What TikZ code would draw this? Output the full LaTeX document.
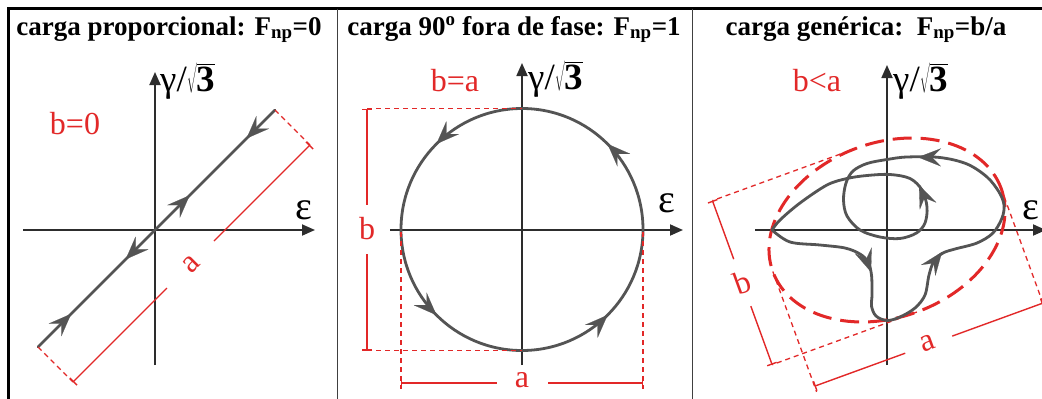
\documentclass[tikz,border=0pt]{standalone}
\usepackage{fontspec}
\setmainfont{Liberation Serif}
\usetikzlibrary{arrows.meta,decorations.markings,calc}
\definecolor{dimred}{RGB}{226,40,40}
\definecolor{pathgray}{RGB}{84,84,84}
\definecolor{axisgray}{RGB}{45,45,45}
\tikzset{
  axisline/.style={draw=axisgray,line width=1.8pt,-{Triangle[length=13pt,width=11pt]}},
  loadpath/.style={draw=pathgray,line width=2.8pt,line cap=round,line join=round},
  tipmark/.style={draw=pathgray,fill=pathgray,line width=0.1pt,-{Stealth[length=23pt,width=18pt,inset=9pt]}},
  dimline/.style={draw=dimred,line width=1.4pt},
  dimend/.style={draw=dimred,line width=1.4pt,{Bar[width=10pt,line width=1.4pt]}-},
  extline/.style={draw=dimred,line width=1.3pt,dash pattern=on 5pt off 4pt},
  ellline/.style={draw=dimred,line width=3pt,dash pattern=on 19pt off 9pt},
  titletext/.style={anchor=base,inner sep=0pt,font=\bfseries\fontsize{27}{27}\selectfont},
  redlabel/.style={inner sep=0pt,text=dimred,font=\fontsize{32}{32}\selectfont},
  axislabel/.style={inner sep=0pt,font=\fontsize{37}{37}\selectfont},
  epslabel/.style={inner sep=0pt,font=\fontsize{40}{40}\selectfont},
  framepart/.style={draw=black,line width=3pt},
  divider/.style={draw=black!75,line width=1.5pt}
}
\newcommand{\fwd}{\arrow[pathgray,line width=0.1pt]{Stealth[length=23pt,width=18pt,inset=9pt]}}
\newcommand{\bwd}{\arrowreversed[pathgray,line width=0.1pt]{Stealth[length=23pt,width=18pt,inset=9pt]}}
\begin{document}
\begin{tikzpicture}[x=1pt,y=-1pt]
\useasboundingbox (0,0) rectangle (1042,399);
\fill[white] (0,0) rectangle (1042,399);
% frame
\coordinate (fbl) at (8.5,399);
\coordinate (ftl) at (8.5,8.5);
\coordinate (ftr) at (1042,8.5);
\draw[framepart] (fbl) -- (ftl) -- (ftr);
\coordinate (d1t) at (337.5,8.5); \coordinate (d1b) at (337.5,399);
\coordinate (d2t) at (692.5,8.5); \coordinate (d2b) at (692.5,399);
\draw[divider] (d1t) -- (d1b);
\draw[divider] (d2t) -- (d2b);

% ================= panel 1
\node[titletext] (t1) at (169,35) {carga proporcional: F\textsubscript{np}=0};
\coordinate (h1a) at (23,230); \coordinate (h1b) at (315,230);
\coordinate (v1a) at (155,365); \coordinate (v1b) at (155,72);
\draw[axisline] (h1a) -- (h1b);
\draw[axisline] (v1a) -- (v1b);
\node[axislabel,anchor=west] (g1) at (160,81) {γ/$\sqrt{\textbf{3}}$};
\node[epslabel] (e1) at (304,210) {ε};
\node[redlabel] (r1) at (75,124) {b=0};
\coordinate (p1a) at (38,347); \coordinate (p1b) at (275,110);
\draw[loadpath,postaction={decorate},decoration={markings,
  mark=at position 0.14 with {\fwd},
  mark=at position 0.37 with {\bwd},
  mark=at position 0.64 with {\fwd},
  mark=at position 0.88 with {\bwd}}] (p1a) -- (p1b);
\coordinate (q1a) at (73,382); \coordinate (q1b) at (310,145);
\draw[extline] (p1a) -- (q1a);
\draw[extline] (p1b) -- (q1b);
\coordinate (q1c) at (214,241); \coordinate (q1d) at (167,288);
\draw[dimend] (q1b) -- (q1c);
\draw[dimend] (q1a) -- (q1d);
\node[redlabel,rotate=45] (a1) at (191,264) {a};

% ================= panel 2
\node[titletext] (t2) at (514,35) {carga 90\textsuperscript{o} fora de fase: F\textsubscript{np}=1};
\coordinate (h2a) at (390,230); \coordinate (h2b) at (683,230);
\coordinate (v2a) at (522,365); \coordinate (v2b) at (522,63);
\draw[axisline] (h2a) -- (h2b);
\draw[axisline] (v2a) -- (v2b);
\node[axislabel,anchor=west] (g2) at (528,79) {γ/$\sqrt{\textbf{3}}$};
\node[epslabel] (e2) at (667,203) {ε};
\node[redlabel] (r2) at (455,81) {b=a};
\coordinate (c2) at (522,229.5);
\draw[loadpath,postaction={decorate},decoration={markings,
  mark=at position 0.125 with {\fwd},
  mark=at position 0.375 with {\fwd},
  mark=at position 0.625 with {\fwd},
  mark=at position 0.875 with {\fwd}}]
  (643,229.5) arc[start angle=0,end angle=-360,radius=121];
% b dimension
\coordinate (b2t) at (367,108.5); \coordinate (b2b) at (367,350.5);
\coordinate (c2t) at (522,108.5); \coordinate (c2b) at (522,350.5);
\draw[extline] (b2t) -- (c2t);
\draw[extline] (b2b) -- (c2b);
\coordinate (b2g1) at (367,205); \coordinate (b2g2) at (367,254);
\draw[dimend] (b2t) -- (b2g1);
\draw[dimend] (b2b) -- (b2g2);
\node[redlabel] (lb2) at (367,229) {b};
% a dimension
\coordinate (x2l) at (401,232); \coordinate (x2r) at (643,232);
\coordinate (a2l) at (401,383); \coordinate (a2r) at (643,383);
\coordinate (x2lb) at (401,389); \coordinate (x2rb) at (643,389);
\draw[extline] (x2l) -- (x2lb);
\draw[extline] (x2r) -- (x2rb);
\coordinate (a2g1) at (497,383); \coordinate (a2g2) at (548,383);
\draw[dimend] (a2l) -- (a2g1);
\draw[dimend] (a2r) -- (a2g2);
\node[redlabel] (la2) at (522,380) {a};

% ================= panel 3
\node[titletext] (t3) at (866,35) {carga genérica:\ \ F\textsubscript{np}=b/a};
\coordinate (h3a) at (755,230); \coordinate (h3b) at (1046,230);
\coordinate (v3a) at (887,365); \coordinate (v3b) at (887,65);
\draw[axisline] (h3a) -- (h3b);
\draw[axisline] (v3a) -- (v3b);
\node[axislabel,anchor=west] (g3) at (893,81) {γ/$\sqrt{\textbf{3}}$};
\node[epslabel] (e3) at (1031,210) {ε};
\node[redlabel] (r3) at (817,81) {b<a};
\begin{scope}[shift={(887,230)},rotate=20]
  \draw[ellline] (0,0) ellipse [x radius=121.5,y radius=87.3];
  \coordinate (et) at (0,-87.3); \coordinate (eb) at (0,87.3);
  \coordinate (el) at (-121.5,0); \coordinate (er) at (121.5,0);
  \coordinate (bt) at (-154,-87.3); \coordinate (bb) at (-154,87.3);
  \coordinate (bg1) at (-154,-25); \coordinate (bg2) at (-154,25);
  \draw[extline] (et) -- (bt);
  \draw[extline] (eb) -- (bb);
  \draw[dimend] (bt) -- (bg1);
  \draw[dimend] (bb) -- (bg2);
  \node[redlabel,rotate=20] (lb3) at (-154,0) {b};
  \coordinate (al) at (-121.5,122); \coordinate (ar) at (121.5,122);
  \coordinate (alx) at (-121.5,128); \coordinate (arx) at (121.5,128);
  \coordinate (ag1) at (-25,122); \coordinate (ag2) at (25,122);
  \draw[extline] (el) -- (alx);
  \draw[extline] (er) -- (arx);
  \draw[dimend] (al) -- (ag1);
  \draw[dimend] (ar) -- (ag2);
  \node[redlabel,rotate=20] (la3) at (0,120) {a};
\end{scope}
\draw[loadpath] plot[smooth,tension=0.55] coordinates {
  (772,230) (790,242) (820,245) (845,248) (860,254) (868,262) (871.5,275)
  (872,295) (871.5,306) (876,316) (887,320.5) (900,317) (915,308) (925,295)
  (929,275) (934,261) (943,253) (955,249) (977,243) (993,233) (1002,218)
  (1004,205) (999,192) (987,177) (967,164) (940,157.5) (907,157) (887,159.5)
  (867,163.5) (853,171) (846,183) (843.5,200) (847,216) (860,230) (880,237)
  (900,238.5) (916.5,233) (925,223) (927,207) (922,190) (910,178.5) (890,174.5)
  (867,175.5) (847,178.5) (827,185) (800,203) (780,220) (772,230)};
% arrowheads on the path
\coordinate (k1a) at (930,157.3); \coordinate (k1b) at (918,157.2);
\coordinate (k2a) at (925,199); \coordinate (k2b) at (919,185);
\coordinate (k3a) at (866,258); \coordinate (k3b) at (871,272);
\coordinate (k4a) at (933,264); \coordinate (k4b) at (942,252);
\draw[tipmark] (k1a) -- (k1b);
\draw[tipmark] (k2a) -- (k2b);
\draw[tipmark] (k3a) -- (k3b);
\draw[tipmark] (k4a) -- (k4b);
\end{tikzpicture}
\end{document}
